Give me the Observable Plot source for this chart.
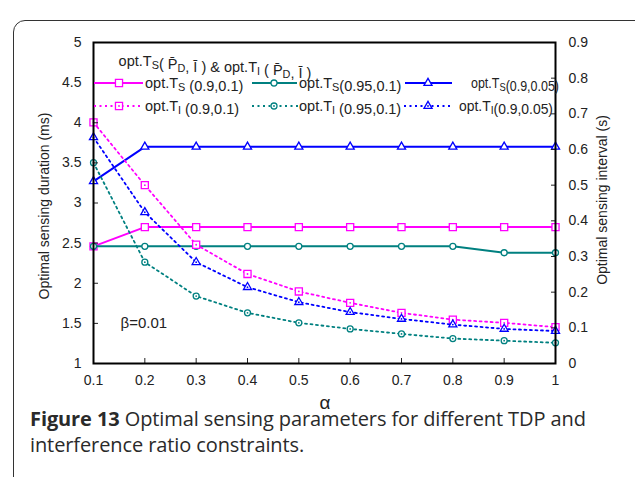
<!DOCTYPE html>
<html><head><meta charset="utf-8">
<script src="https://cdn.jsdelivr.net/npm/d3@7"></script>
<script src="https://cdn.jsdelivr.net/npm/@observablehq/plot@0.6"></script>
<style>
body{margin:0;background:#fff;width:635px;height:477px;overflow:hidden;position:relative;font-family:"Liberation Sans",Arial,sans-serif}
#border{position:absolute;left:13px;top:20px;width:660px;height:490px;border:1.5px solid #333;border-radius:12px;box-sizing:border-box}
#chart{position:absolute;left:0;top:0}
.cap{position:absolute;left:30px;font-family:"Open Sans",sans-serif;font-size:20px;color:#2a2a2a;line-height:20px;white-space:nowrap;letter-spacing:-0.1px}
</style></head><body>
<div id="border"></div>
<div id="chart"></div>
<div class="cap" style="top:409px"><b>Figure 13</b> Optimal sensing parameters for different TDP and</div>
<div class="cap" style="top:435px">interference ratio constraints.</div>
<script>
// ---- data ----
const alpha = [0.1, 0.2, 0.3, 0.4, 0.5, 0.6, 0.7, 0.8, 0.9, 1.0];
const alphaLabels = ["0.1","0.2","0.3","0.4","0.5","0.6","0.7","0.8","0.9","1"];
// optimal sensing duration (ms), left axis
const tsA = [2.46, 2.70, 2.70, 2.70, 2.70, 2.70, 2.70, 2.70, 2.70, 2.70]; // (0.9,0.1)
const tsB = [2.46, 2.46, 2.46, 2.46, 2.46, 2.46, 2.46, 2.46, 2.38, 2.38]; // (0.95,0.1)
const tsC = [3.27, 3.70, 3.70, 3.70, 3.70, 3.70, 3.70, 3.70, 3.70, 3.70]; // (0.9,0.05)
// optimal sensing interval (s), right axis
const tiA = [0.676, 0.500, 0.333, 0.251, 0.202, 0.170, 0.142, 0.123, 0.114, 0.102];
const tiB = [0.563, 0.284, 0.189, 0.142, 0.114, 0.097, 0.083, 0.070, 0.064, 0.058];
const tiC = [0.634, 0.424, 0.284, 0.214, 0.172, 0.144, 0.125, 0.109, 0.097, 0.091];
const leftTicks = [1, 1.5, 2, 2.5, 3, 3.5, 4, 4.5, 5];
const leftTickLabels = ["1","1.5","2","2.5","3","3.5","4","4.5","5"];
const rightTicks = [0, 0.1, 0.2, 0.3, 0.4, 0.5, 0.6, 0.7, 0.8, 0.9];
const rightTickLabels = ["0","0.1","0.2","0.3","0.4","0.5","0.6","0.7","0.8","0.9"];

const W = 635, H = 412;
const mL = 93, mR = 80, mT = 42, mB = 49;
const yL = [1, 5], yR = [0, 0.9];
const toL = v => yL[0] + (v - yR[0]) * (yL[1] - yL[0]) / (yR[1] - yR[0]);

const MAG = "#ff00ff", TEAL = "#008080", BLUE = "#0000ff";
const DASH = "2,3.5";
const series = [
  {values: tsA, right: false, color: MAG, symbol: "square", r: 4, dashed: false},
  {values: tsB, right: false, color: TEAL, symbol: "circle", r: 3, dashed: false},
  {values: tsC, right: false, color: BLUE, symbol: "triangle", r: 3, dashed: false},
  {values: tiA, right: true, color: MAG, symbol: "square", r: 4, dashed: true},
  {values: tiB, right: true, color: TEAL, symbol: "circle", r: 3, dashed: true},
  {values: tiC, right: true, color: BLUE, symbol: "triangle", r: 3, dashed: true}
];

const marks = [];
series.forEach(s => {
  const data = alpha.map((a, i) => ({x: a, y: s.right ? toL(s.values[i]) : s.values[i]}));
  marks.push(Plot.line(data, {x: "x", y: "y", stroke: s.color, strokeWidth: s.dashed ? 1.8 : 2,
    strokeDasharray: s.dashed ? DASH : null}));
  marks.push(Plot.dot(data, {x: "x", y: "y", symbol: s.symbol, r: s.r, stroke: s.color, fill: "white", strokeWidth: 1.3}));
  if (s.dashed) marks.push(Plot.dot(data, {x: "x", y: "y", r: 0.9, fill: s.color, stroke: null}));
});

const rightPos = rightTicks.map(toL);
const fmtRight = d => rightTickLabels[rightPos.findIndex(p => Math.abs(p - d) < 1e-6)];
const fmtLeft = d => leftTickLabels[leftTicks.findIndex(p => Math.abs(p - d) < 1e-6)];
const fmtX = d => alphaLabels[alpha.findIndex(p => Math.abs(p - d) < 1e-6)];

const plot = Plot.plot({
  width: W, height: H,
  marginLeft: mL, marginRight: mR, marginTop: mT, marginBottom: mB,
  style: {fontSize: "14px", fontFamily: "Liberation Sans, Arial, sans-serif", color: "#222", background: "transparent", overflow: "visible"},
  x: {domain: [0.1, 1]},
  y: {domain: yL},
  marks: [
    ...marks,
    Plot.axisY({anchor: "left", ticks: leftTicks, tickSize: 5, dx: 5, tickFormat: () => "", label: null}),
    Plot.axisY({anchor: "left", ticks: leftTicks, tickSize: 0, tickPadding: 12, tickFormat: fmtLeft, label: null, fill: "#222"}),
    Plot.axisY({anchor: "right", ticks: rightPos, tickSize: 5, dx: -5, tickFormat: () => "", label: null}),
    Plot.axisY({anchor: "right", ticks: rightPos, tickSize: 0, tickPadding: 13, tickFormat: fmtRight, label: null, fill: "#222"}),
    Plot.axisX({anchor: "bottom", ticks: alpha, tickSize: 5, dy: -5, tickFormat: () => "", label: null}),
    Plot.axisX({anchor: "bottom", ticks: alpha, tickSize: 0, tickPadding: 12, tickFormat: fmtX, label: null, fill: "#222"}),
    Plot.frame({stroke: "black", strokeWidth: 2}),
    Plot.text(["β=0.01"], {frameAnchor: "bottom-left", dx: 27, dy: -36, textAnchor: "start", fontSize: 15, fill: "#222"})
  ]
});
document.getElementById("chart").appendChild(plot);

// ---- axis titles & legend ----
const svg = d3.select(plot);
svg.append("text").attr("transform", "translate(49,206) rotate(-90)").attr("text-anchor", "middle")
  .attr("font-size", 14).attr("fill", "#222").text("Optimal sensing duration (ms)");
svg.append("text").attr("transform", "translate(607,200) rotate(-90)").attr("text-anchor", "middle")
  .attr("font-size", 14).attr("fill", "#222").text("Optimal sensing interval (s)");
svg.append("text").attr("x", 325).attr("y", 409).attr("text-anchor", "middle")
  .attr("font-size", 19).attr("fill", "#222").text("α");

function rich(x, y, parts, anchor, size, len) {
  const fs = size || 14.5;
  const t = svg.append("text").attr("x", x).attr("y", y).attr("font-size", fs).attr("fill", "#222")
    .attr("text-anchor", anchor || "start");
  if (len) t.attr("textLength", len).attr("lengthAdjust", "spacingAndGlyphs");
  parts.forEach(p => {
    if (typeof p === "string") t.append("tspan").text(p);
    else {
      t.append("tspan").attr("font-size", fs * 0.75).attr("dy", 3).text(p.sub);
      t.append("tspan").attr("dy", -3).text("");
    }
  });
  return t;
}
rich(215, 66, ["opt.T", {sub: "S"}, "( P\u0304", {sub: "D"}, ", I\u0304 ) & opt.T", {sub: "I"}, " ( P\u0304", {sub: "D"}, ", I\u0304 )"], "middle", 14.5);

const legendItems = [
  {x0: 94, x1: 143, sx: 119, tx: 145, row: 0, s: 0, parts: ["opt.T", {sub: "S"}, " (0.9,0.1)"]},
  {x0: 252, x1: 297, sx: 274, tx: 299, row: 0, s: 1, parts: ["opt.T", {sub: "S"}, "(0.95,0.1)"]},
  {x0: 405, x1: 452, sx: 428, tx: 471, row: 0, s: 2, parts: ["opt.T", {sub: "S"}, "(0.9,0.05)"], len: 88},
  {x0: 94, x1: 143, sx: 119, tx: 145, row: 1, s: 3, parts: ["opt.T", {sub: "I"}, " (0.9,0.1)"]},
  {x0: 252, x1: 298, sx: 274, tx: 299, row: 1, s: 4, parts: ["opt.T", {sub: "I"}, " (0.95,0.1)"]},
  {x0: 404, x1: 452, sx: 428, tx: 459, row: 1, s: 5, parts: ["opt.T", {sub: "I"}, "(0.9,0.05)"], len: 94}
];
const symMap = {square: d3.symbolSquare, circle: d3.symbolCircle, triangle: d3.symbolTriangle};
legendItems.forEach(it => {
  const s = series[it.s];
  const y = it.row === 0 ? 83 : 106;
  svg.append("line").attr("x1", it.x0).attr("x2", it.x1).attr("y1", y).attr("y2", y)
    .attr("stroke", s.color).attr("stroke-width", s.dashed ? 1.8 : 2).attr("stroke-dasharray", s.dashed ? DASH : null);
  svg.append("path").attr("transform", `translate(${it.sx},${y})`)
    .attr("d", d3.symbol(symMap[s.symbol], Math.PI * s.r * s.r)())
    .attr("fill", "white").attr("stroke", s.color).attr("stroke-width", 1.3);
  if (s.dashed) svg.append("circle").attr("cx", it.sx).attr("cy", y).attr("r", 0.9).attr("fill", s.color);
  rich(it.tx, y + 5, it.parts, "start", 14.5, it.len);
});
</script>
</body></html>
